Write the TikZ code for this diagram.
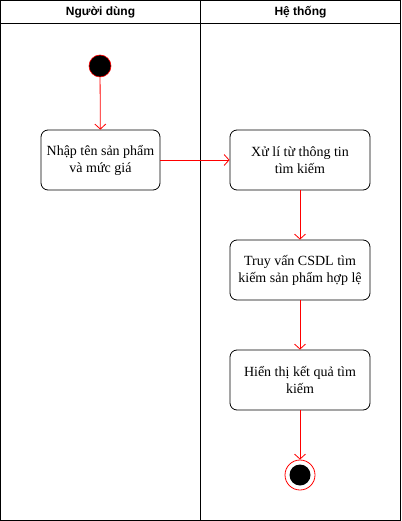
\documentclass[tikz,border=0pt]{standalone}
\usepackage{fontspec}
\setmainfont{Liberation Serif}
\newfontfamily\headfont{Liberation Sans}
\usetikzlibrary{arrows.meta}
\begin{document}
\begin{tikzpicture}[x=1pt,y=-1pt,
  act/.style={draw=black,line width=0.8pt,rounded corners=7pt,minimum width=119pt,minimum height=60pt,align=center,inner sep=2pt,font=\fontsize{14}{17}\selectfont},
  act2/.style={act,minimum width=140pt},
  flow/.style={draw=red,line width=0.8pt,-{Straight Barb[length=5pt,width=11pt]}},
  hdr/.style={font=\headfont\bfseries\fontsize{12}{14}\selectfont}]
\useasboundingbox (0,0) rectangle (401,521);
\draw[line width=0.8pt] (0.5,0.5) rectangle (400.5,520);
\draw[line width=0.8pt] (0.5,23) -- (400.5,23);
\draw[line width=0.8pt] (200.5,0.5) -- (200.5,520);
\node[hdr] (h1) at (100.5,12) {Người dùng};
\node[hdr] (h2) at (300.5,12) {Hệ thống};
\node[circle,fill=black,draw=red,line width=0.6pt,minimum size=22pt,inner sep=0pt] (start) at (100,66) {};
\node[act] (a1) at (100.5,160) {Nhập tên sản phẩm\\và mức giá};
\node[act2] (a2) at (300,160) {Xử lí từ thông tin\\tìm kiếm};
\node[act2] (a3) at (300,270) {Truy vấn CSDL tìm\\kiếm sản phẩm hợp lệ};
\node[act2] (a4) at (300,380) {Hiển thị kết quả tìm\\kiếm};
\node[circle,draw=red,line width=0.8pt,minimum size=30pt,inner sep=0pt] (end) at (300,475) {};
\node[circle,fill=black,minimum size=21pt,inner sep=0pt] (endin) at (end.center) {};
\draw[flow] (start) -- (a1);
\draw[flow] (a1) -- (a2);
\draw[flow] (a2) -- (a3);
\draw[flow] (a3) -- (a4);
\draw[flow] (a4) -- (end);
\end{tikzpicture}
\end{document}
